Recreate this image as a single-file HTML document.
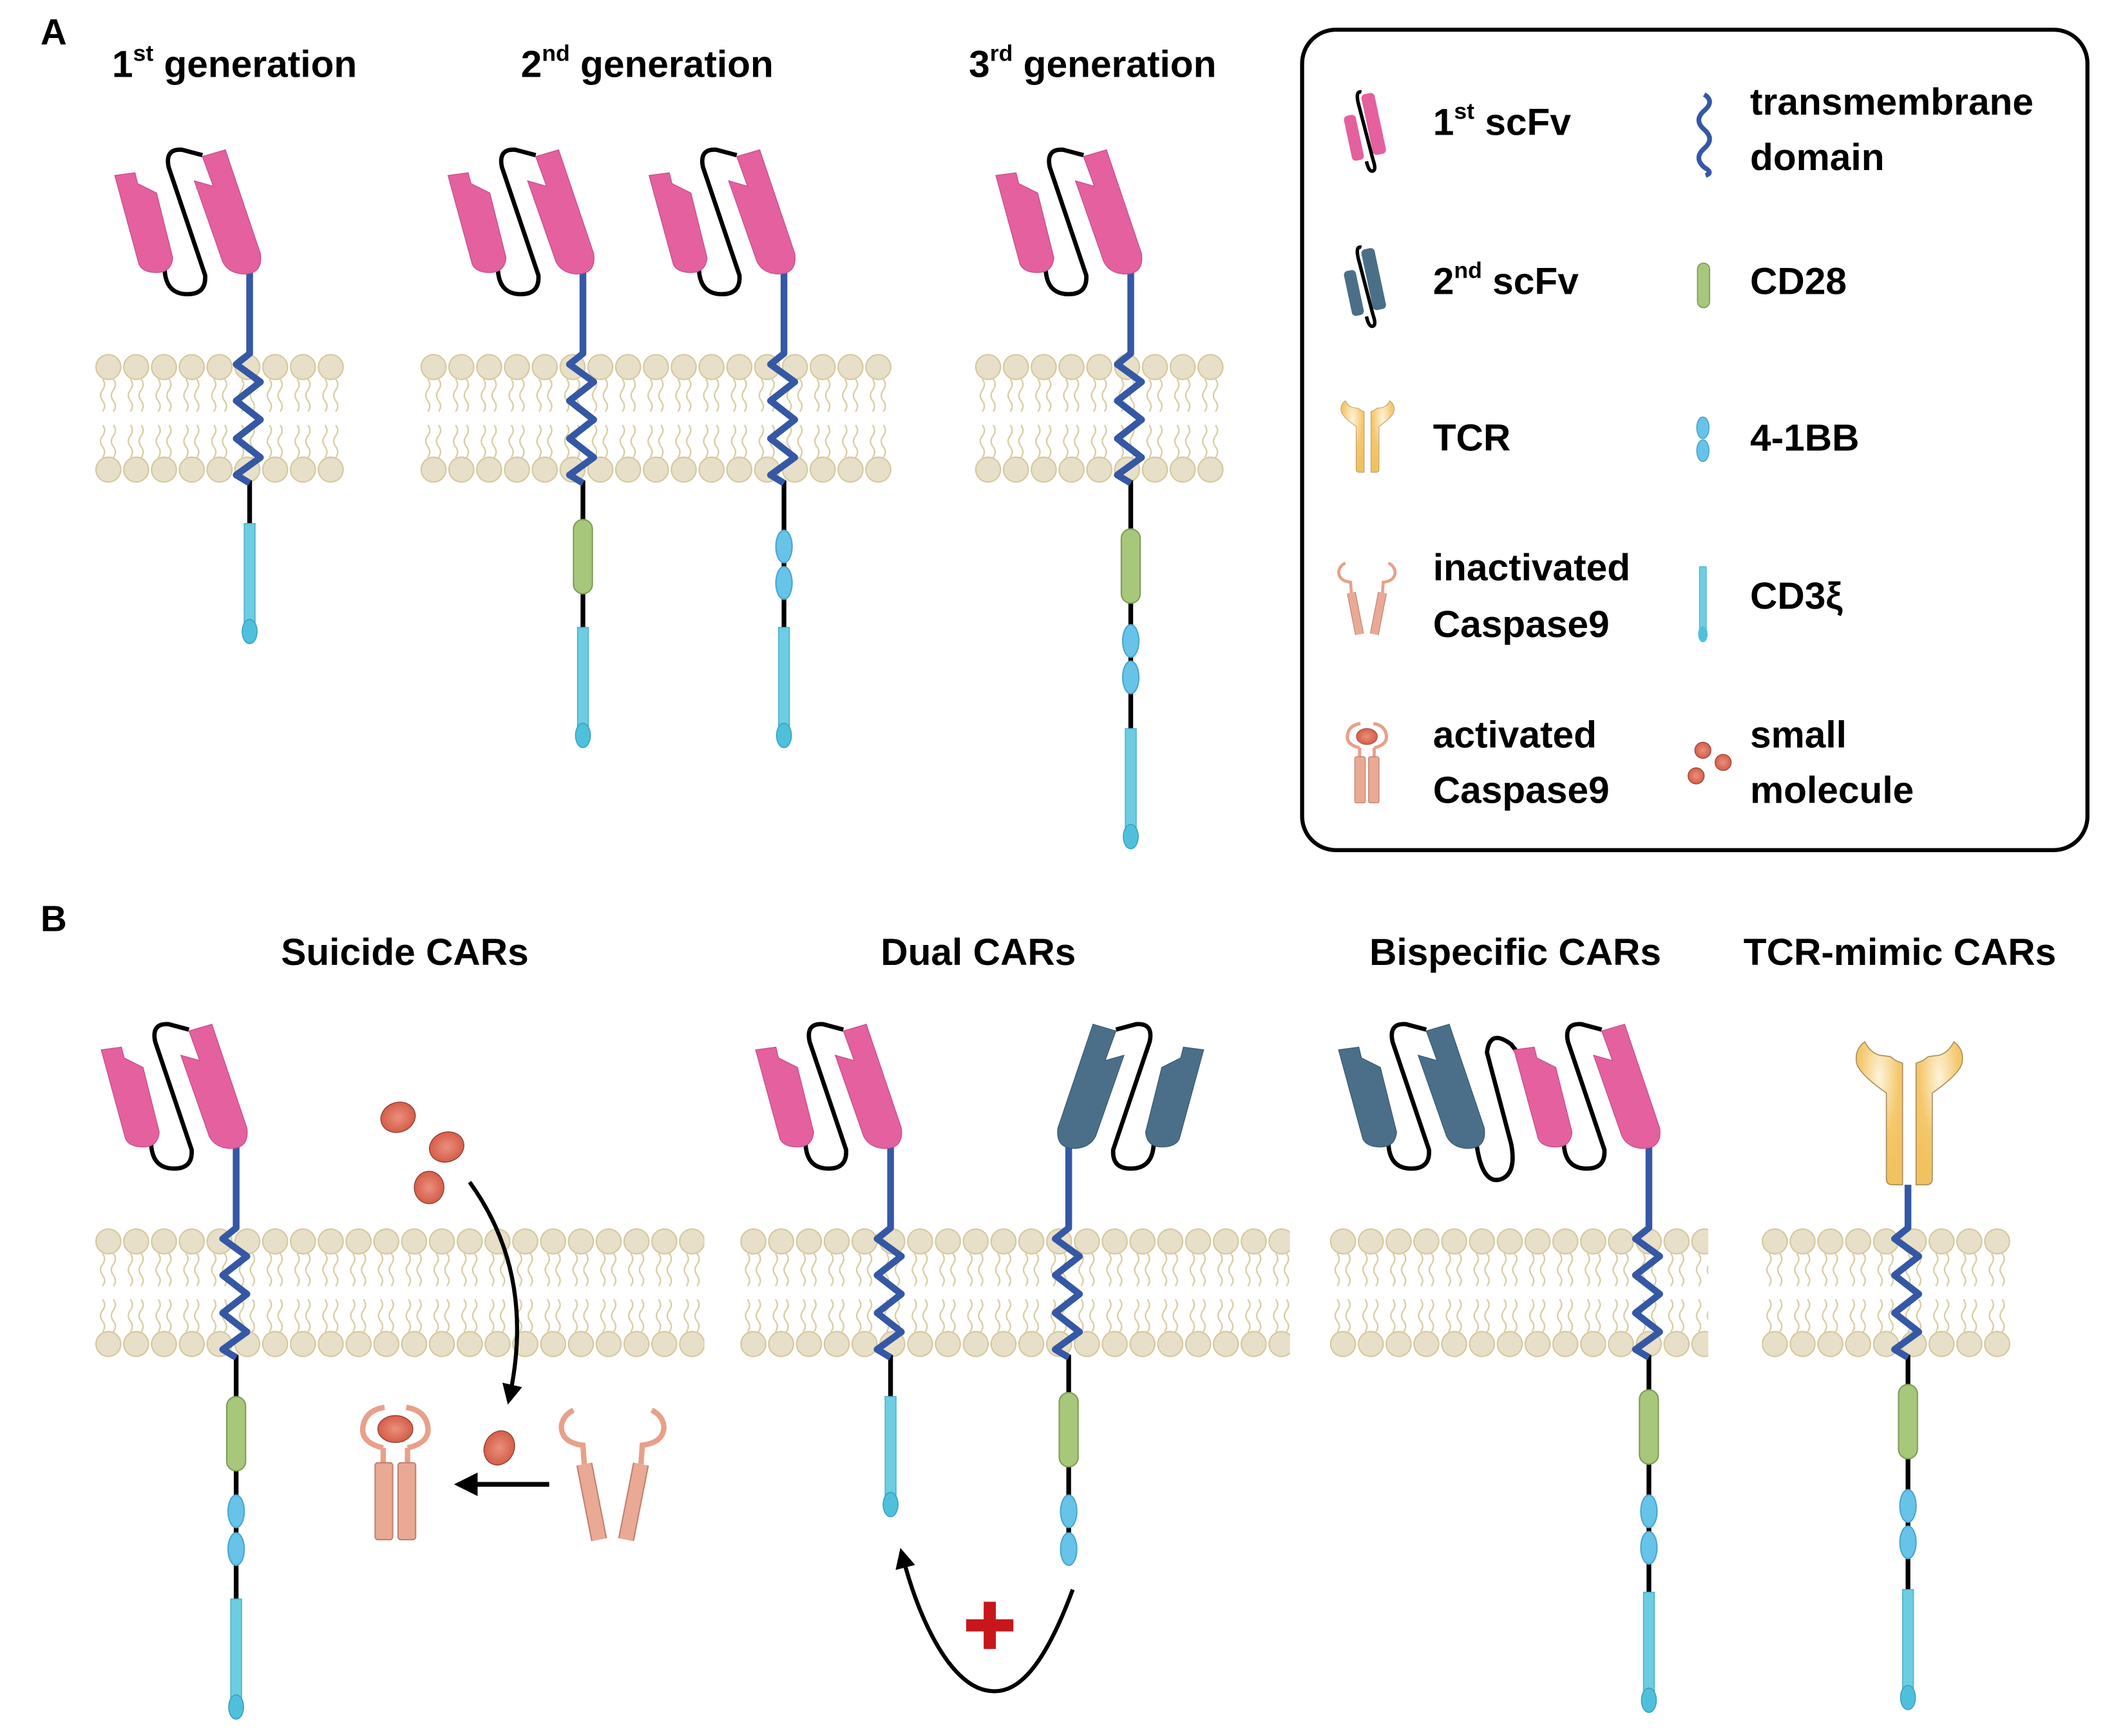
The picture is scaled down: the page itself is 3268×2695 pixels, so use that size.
<!DOCTYPE html>
<html><head><meta charset="utf-8"><style>html,body{margin:0;padding:0;background:#fff}svg{display:block}</style></head>
<body>
<svg xmlns="http://www.w3.org/2000/svg" xmlns:xlink="http://www.w3.org/1999/xlink" width="3268" height="2695" viewBox="0 0 1560 1286.5">
<defs>
<pattern id="mem" patternUnits="userSpaceOnUse" x="0" y="-50" width="20.6" height="100">
  <g fill="none" stroke="#d8cda3" stroke-width="1.1">
    <path d="M6,21 q3,4 0,8 q-3,4 0,8 q3,4 0,8"/><path d="M14,21 q3,4 0,8 q-3,4 0,8 q3,4 0,8"/>
    <path d="M6,55 q3,4 0,8 q-3,4 0,8 q3,4 0,8"/><path d="M14,55 q3,4 0,8 q-3,4 0,8 q3,4 0,8"/>
  </g>
  <circle cx="10.3" cy="12" r="9.2" fill="#e8dfc8" stroke="#d4c79d" stroke-width="1"/>
  <circle cx="10.3" cy="88" r="9.2" fill="#e8dfc8" stroke="#d4c79d" stroke-width="1"/>
</pattern>
<radialGradient id="tcrg" cx="0.5" cy="0.25" r="0.7"><stop offset="0" stop-color="#fdf3dc"/><stop offset="0.6" stop-color="#f5c86d"/><stop offset="1" stop-color="#f2c160"/></radialGradient>
<radialGradient id="molg" cx="0.5" cy="0.5" r="0.6"><stop offset="0" stop-color="#e9907c"/><stop offset="1" stop-color="#d2533f"/></radialGradient>
<marker id="ah" viewBox="0 0 10 10" refX="8" refY="5" markerWidth="5" markerHeight="5" orient="auto-start-reverse"><path d="M0,0 L10,5 L0,10 Z" fill="#000"/></marker>

<g id="scfvP">
  <path d="M-63,-2 Q-62,16 -46,16 Q-32,16 -33,2 L-60,-78 Q-63,-92 -50,-91 L-35,-87" fill="none" stroke="#000" stroke-width="3.2"/>
  <path d="M-100,-72 L-85,-74 L-83,-66 L-69,-59 L-57,-11 Q-58,0 -69,0 Q-79,0 -82,-6 Z" fill="#e4609f" stroke="#c54e88" stroke-width="0.6"/>
  <path d="M-35,-86 L-18,-91 L8,-14 Q10,2 -6,1 Q-16,0 -20,-8 L-41,-68 L-27,-64 Z" fill="#e4609f" stroke="#c54e88" stroke-width="0.6"/>
</g>
<g id="scfvB">
  <path d="M-63,-2 Q-62,16 -46,16 Q-32,16 -33,2 L-60,-78 Q-63,-92 -50,-91 L-35,-87" fill="none" stroke="#000" stroke-width="3.2"/>
  <path d="M-100,-72 L-85,-74 L-83,-66 L-69,-59 L-57,-11 Q-58,0 -69,0 Q-79,0 -82,-6 Z" fill="#4b6f88" stroke="#3b5a70" stroke-width="0.6"/>
  <path d="M-35,-86 L-18,-91 L8,-14 Q10,2 -6,1 Q-16,0 -20,-8 L-41,-68 L-27,-64 Z" fill="#4b6f88" stroke="#3b5a70" stroke-width="0.6"/>
</g>
<path id="tm" d="M0,-108 L0,-48 L-10,-40 L8,-27 L-10,-13 L8,1 L-10,15 L8,29 L-10,42 L0,48" fill="none" stroke="#3558a5" stroke-width="5" stroke-linejoin="round"/>
<g id="tcr">
  <path id="tcrL" d="M-4,0 L-4,-90 L-9,-92 L-13,-95 L-21,-96 Q-28,-98 -32,-106 Q-40,-100 -38,-90 Q-36,-82 -16,-68 L-16,-4 Q-16,0 -11,0 Z" fill="url(#tcrg)" stroke="#a89060" stroke-width="0.8"/>
  <use xlink:href="#tcrL" transform="scale(-1,1) translate(-2,0)"/>
</g>
<g id="cd28"><rect x="-7" y="0" width="14" height="55" rx="7" fill="#a7c77b" stroke="#7e9d56" stroke-width="1"/></g>
<g id="bb"><ellipse cx="0" cy="0" rx="6" ry="12" fill="#67c3e8" stroke="#4aa6cf" stroke-width="1"/></g>
<g id="cd3"><rect x="-4" y="0" width="8" height="74" fill="#6ccde3" stroke="#4fb2cb" stroke-width="0.8"/><ellipse cx="0" cy="80" rx="5.5" ry="9" fill="#4fc0dc" stroke="#37a4c0" stroke-width="0.8"/></g>
<g id="casA">
  <path d="M-9,-55 L-9,-68 M9,-55 L9,-68" stroke="#e8a08a" stroke-width="4"/>
  <path d="M-9,-68 Q-26,-72 -24,-84 Q-22,-96 -8,-98 M9,-68 Q26,-72 24,-84 Q22,-96 8,-98" fill="none" stroke="#e8a08a" stroke-width="4"/>
  <ellipse cx="0" cy="-82" rx="13" ry="10" fill="url(#molg)" stroke="#8a3a2e" stroke-width="0.6"/>
  <rect x="-15" y="-57" width="13" height="57" rx="2" fill="#eaa995" stroke="#c08070" stroke-width="1"/>
  <rect x="2" y="-57" width="13" height="57" rx="2" fill="#eaa995" stroke="#c08070" stroke-width="1"/>
</g>
<g id="casI">
  <path d="M-21,-56 L-22,-70 Q-38,-72 -38,-84 Q-37,-92 -29,-96 M21,-56 L22,-70 Q38,-72 38,-84 Q37,-92 29,-96" fill="none" stroke="#e8a08a" stroke-width="4"/>
  <line x1="-21" y1="-56" x2="-10" y2="0" stroke="#c08070" stroke-width="12"/>
  <line x1="-21" y1="-56" x2="-10" y2="0" stroke="#eaa995" stroke-width="10"/>
  <line x1="21" y1="-56" x2="10" y2="0" stroke="#c08070" stroke-width="12"/>
  <line x1="21" y1="-56" x2="10" y2="0" stroke="#eaa995" stroke-width="10"/>
</g>
<g id="iconScfv">
  <rect x="-15" y="-14" width="9" height="34" rx="3"/>
  <rect x="1" y="-27" width="10" height="46" rx="3"/>
  <path d="M-5,22 Q-5,30 -2,30 Q1,30 0,22 L-2,-22 Q-2,-31 2,-29" fill="none" stroke="#000" stroke-width="2.6"/>
</g>
</defs>

<!-- membranes -->
<g transform="translate(70,310)"><rect x="0" y="-50" width="185" height="100" fill="url(#mem)"/></g>
<g transform="translate(311,310)"><rect x="0" y="-50" width="350" height="100" fill="url(#mem)"/></g>
<g transform="translate(722,310)"><rect x="0" y="-50" width="185" height="100" fill="url(#mem)"/></g>
<g transform="translate(70,958)"><rect x="0" y="-50" width="452" height="100" fill="url(#mem)"/></g>
<g transform="translate(548,958)"><rect x="0" y="-50" width="408" height="100" fill="url(#mem)"/></g>
<g transform="translate(985,958)"><rect x="0" y="-50" width="281" height="100" fill="url(#mem)"/></g>
<g transform="translate(1305,958)"><rect x="0" y="-50" width="185" height="100" fill="url(#mem)"/></g>

<!-- A 1st gen -->
<g transform="translate(185,310)">
  <line x1="0" y1="46" x2="0" y2="80" stroke="#000" stroke-width="3.5"/>
  <use xlink:href="#tm"/><use xlink:href="#scfvP" transform="translate(0,-108)"/>
  <use xlink:href="#cd3" transform="translate(0,78)"/>
</g>
<!-- A 2nd gen -->
<g transform="translate(432,310)">
  <line x1="0" y1="46" x2="0" y2="160" stroke="#000" stroke-width="3.5"/>
  <use xlink:href="#tm"/><use xlink:href="#scfvP" transform="translate(0,-108)"/>
  <use xlink:href="#cd28" transform="translate(0,75)"/>
  <use xlink:href="#cd3" transform="translate(0,155)"/>
</g>
<g transform="translate(581,310)">
  <line x1="0" y1="46" x2="0" y2="160" stroke="#000" stroke-width="3.5"/>
  <use xlink:href="#tm"/><use xlink:href="#scfvP" transform="translate(0,-108)"/>
  <use xlink:href="#bb" transform="translate(0,95)"/><use xlink:href="#bb" transform="translate(0,122)"/>
  <use xlink:href="#cd3" transform="translate(0,155)"/>
</g>
<!-- A 3rd gen -->
<g transform="translate(838,310)">
  <line x1="0" y1="46" x2="0" y2="235" stroke="#000" stroke-width="3.5"/>
  <use xlink:href="#tm"/><use xlink:href="#scfvP" transform="translate(0,-108)"/>
  <use xlink:href="#cd28" transform="translate(0,82)"/>
  <use xlink:href="#bb" transform="translate(0,165)"/><use xlink:href="#bb" transform="translate(0,192)"/>
  <use xlink:href="#cd3" transform="translate(0,230)"/>
</g>

<!-- B suicide -->
<g transform="translate(175,958)">
  <line x1="0" y1="46" x2="0" y2="232" stroke="#000" stroke-width="3.5"/>
  <use xlink:href="#tm"/><use xlink:href="#scfvP" transform="translate(0,-108)"/>
  <use xlink:href="#cd28" transform="translate(0,77)"/>
  <use xlink:href="#bb" transform="translate(0,162)"/><use xlink:href="#bb" transform="translate(0,190)"/>
  <use xlink:href="#cd3" transform="translate(0,227)"/>
</g>
<ellipse cx="295" cy="828" rx="13" ry="11" fill="url(#molg)" stroke="#8a3a2e" stroke-width="0.6" transform="rotate(-20 295 828)"/>
<ellipse cx="331" cy="850" rx="13" ry="11" fill="url(#molg)" stroke="#8a3a2e" stroke-width="0.6" transform="rotate(-20 331 850)"/>
<ellipse cx="318" cy="880" rx="11" ry="12" fill="url(#molg)" stroke="#8a3a2e" stroke-width="0.6"/>
<path d="M348,876 Q398,945 377,1038" fill="none" stroke="#000" stroke-width="3" marker-end="url(#ah)"/>
<ellipse cx="370" cy="1073" rx="11" ry="13" fill="url(#molg)" stroke="#8a3a2e" stroke-width="0.6" transform="rotate(25 370 1073)"/>
<line x1="407" y1="1100" x2="340" y2="1100" stroke="#000" stroke-width="3.5" marker-end="url(#ah)"/>
<use xlink:href="#casA" transform="translate(293,1141)"/>
<use xlink:href="#casI" transform="translate(454,1141)"/>

<!-- B dual -->
<g transform="translate(660,958)">
  <line x1="0" y1="46" x2="0" y2="82" stroke="#000" stroke-width="3.5"/>
  <use xlink:href="#tm"/><use xlink:href="#scfvP" transform="translate(0,-108)"/>
  <use xlink:href="#cd3" transform="translate(0,77)"/>
</g>
<g transform="translate(792,958)">
  <line x1="0" y1="46" x2="0" y2="180" stroke="#000" stroke-width="3.5"/>
  <use xlink:href="#tm"/><use xlink:href="#scfvB" transform="translate(0,-108) scale(-1,1)"/>
  <use xlink:href="#cd28" transform="translate(0,74)"/>
  <use xlink:href="#bb" transform="translate(0,162)"/><use xlink:href="#bb" transform="translate(0,190)"/>
</g>
<path d="M795,1178 C772,1240 752,1256 733,1253 C706,1250 682,1205 668,1150" fill="none" stroke="#000" stroke-width="3" marker-end="url(#ah)"/>
<rect x="716" y="1200" width="35" height="9" fill="#c8161d"/>
<rect x="729" y="1187" width="9" height="35" fill="#c8161d"/>

<!-- B bispecific -->
<g transform="translate(1222,958)">
  <line x1="0" y1="46" x2="0" y2="225" stroke="#000" stroke-width="3.5"/>
  <use xlink:href="#tm"/>
  <path d="M-128,-112 Q-124,-80 -110,-84 Q-98,-88 -102,-110 L-120,-178 Q-118,-196 -102,-184 L-95,-175" fill="none" stroke="#000" stroke-width="3.2"/>
  <use xlink:href="#scfvB" transform="translate(-130,-108)"/>
  <use xlink:href="#scfvP" transform="translate(0,-108)"/>
  <use xlink:href="#cd28" transform="translate(0,72)"/>
  <use xlink:href="#bb" transform="translate(0,162)"/><use xlink:href="#bb" transform="translate(0,189)"/>
  <use xlink:href="#cd3" transform="translate(0,222)"/>
</g>

<!-- B TCR-mimic -->
<g transform="translate(1414,958)">
  <line x1="0" y1="46" x2="0" y2="225" stroke="#000" stroke-width="3.5"/>
  <path d="M0,-80 L0,-48 L-10,-40 L8,-27 L-10,-13 L8,1 L-10,15 L8,29 L-10,42 L0,48" fill="none" stroke="#3558a5" stroke-width="5" stroke-linejoin="round"/>
  <use xlink:href="#tcr" transform="translate(0,-80)"/>
  <use xlink:href="#cd28" transform="translate(0,68)"/>
  <use xlink:href="#bb" transform="translate(0,158)"/><use xlink:href="#bb" transform="translate(0,185)"/>
  <use xlink:href="#cd3" transform="translate(0,220)"/>
</g>

<!-- legend -->
<rect x="965" y="22" width="582" height="608" rx="25" fill="none" stroke="#000" stroke-width="3"/>
<use xlink:href="#iconScfv" transform="translate(1013,97) rotate(-12)" fill="#e4609f"/>
<use xlink:href="#iconScfv" transform="translate(1013,212) rotate(-12)" fill="#4b6f88"/>
<path d="M1263,70 Q1271,75 1263,82 Q1255,89 1263,96 Q1271,103 1263,110 Q1255,117 1263,124 Q1270,128 1264,130" fill="none" stroke="#3558a5" stroke-width="3.5"/>
<rect x="1258" y="195" width="9" height="33" rx="4.5" fill="#a7c77b" stroke="#7e9d56" stroke-width="0.8"/>
<use xlink:href="#tcr" transform="translate(1013,350) scale(0.5)"/>
<ellipse cx="1262" cy="317" rx="4.5" ry="8" fill="#67c3e8" stroke="#4aa6cf" stroke-width="0.8"/>
<ellipse cx="1262" cy="334" rx="4.5" ry="8" fill="#67c3e8" stroke="#4aa6cf" stroke-width="0.8"/>
<use xlink:href="#casI" transform="translate(1013,470) scale(0.55)"/>
<rect x="1259.5" y="420" width="5" height="46" fill="#6ccde3" stroke="#4fb2cb" stroke-width="0.6"/>
<ellipse cx="1262" cy="470" rx="3.5" ry="6" fill="#4fc0dc"/>
<use xlink:href="#casA" transform="translate(1013,595) scale(0.6)"/>
<circle cx="1262" cy="556" r="6" fill="url(#molg)" stroke="#8a3a2e" stroke-width="0.5"/>
<circle cx="1277" cy="565" r="6" fill="url(#molg)" stroke="#8a3a2e" stroke-width="0.5"/>
<circle cx="1257" cy="575" r="6" fill="url(#molg)" stroke="#8a3a2e" stroke-width="0.5"/>

<g font-family="Liberation Sans, sans-serif" font-weight="bold" font-size="28" fill="#000">
  <text x="30" y="33" font-size="27">A</text>
  <text x="30" y="690" font-size="27">B</text>
  <text x="83" y="57">1<tspan font-size="17" dy="-12">st</tspan><tspan dy="12"> generation</tspan></text>
  <text x="386" y="57">2<tspan font-size="17" dy="-12">nd</tspan><tspan dy="12"> generation</tspan></text>
  <text x="718" y="57">3<tspan font-size="17" dy="-12">rd</tspan><tspan dy="12"> generation</tspan></text>
  <text x="300" y="715" text-anchor="middle">Suicide CARs</text>
  <text x="725" y="715" text-anchor="middle">Dual CARs</text>
  <text x="1123" y="715" text-anchor="middle">Bispecific CARs</text>
  <text x="1408" y="715" text-anchor="middle">TCR-mimic CARs</text>
  <text x="1062" y="100">1<tspan font-size="17" dy="-12">st</tspan><tspan dy="12"> scFv</tspan></text>
  <text x="1062" y="218">2<tspan font-size="17" dy="-12">nd</tspan><tspan dy="12"> scFv</tspan></text>
  <text x="1062" y="334">TCR</text>
  <text x="1062" y="430">inactivated</text>
  <text x="1062" y="472">Caspase9</text>
  <text x="1062" y="554">activated</text>
  <text x="1062" y="595">Caspase9</text>
  <text x="1297" y="85">transmembrane</text>
  <text x="1297" y="126">domain</text>
  <text x="1297" y="218">CD28</text>
  <text x="1297" y="334">4-1BB</text>
  <text x="1297" y="451">CD3ξ</text>
  <text x="1297" y="554">small</text>
  <text x="1297" y="595">molecule</text>
</g>
</svg>
</body></html>
